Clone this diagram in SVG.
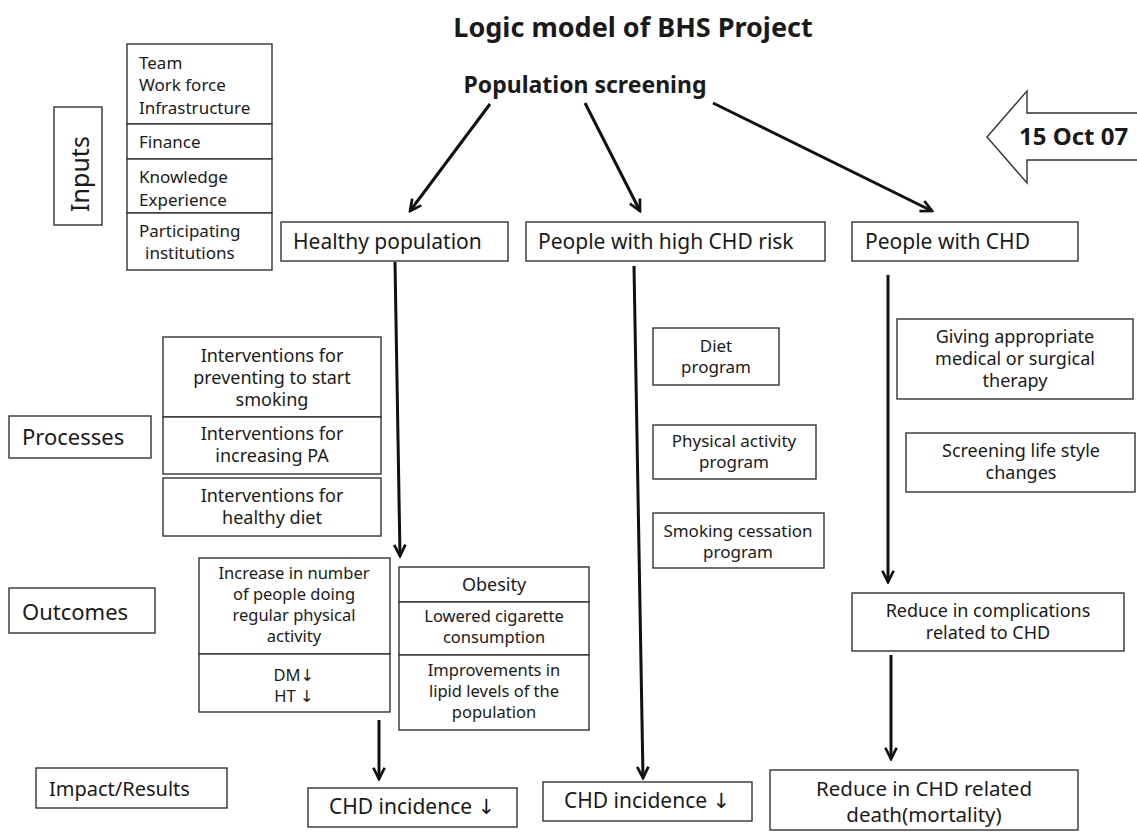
<svg xmlns="http://www.w3.org/2000/svg" width="1137" height="832" viewBox="0 0 1137 832">
<defs>
<style>
.b{fill:#fff;stroke:#333;stroke-width:1.4}
.t{font-family:"Noto Sans","DejaVu Sans",sans-serif;fill:#1a1a1a}
.c{text-anchor:middle}
.s16{font-size:16.5px}
.s17{font-size:17px}
.s18{font-size:18px}
.s21{font-size:21px}
.s22{font-size:22px}
.bold{font-weight:bold}
.e{stroke:#111;stroke-width:3;fill:none;marker-end:url(#ah)}
</style>
<marker id="ah" viewBox="0 0 12 12" refX="10.5" refY="6" markerWidth="5" markerHeight="5" orient="auto" markerUnits="strokeWidth">
<path d="M1.5,1.5 L10.5,6 L1.5,10.5" fill="none" stroke="#111" stroke-width="2.2" stroke-linejoin="miter"/>
</marker>
</defs>
<rect width="1137" height="832" fill="#fff"/>
<g id="title">
<text class="t c bold" x="633" y="37" font-size="27">Logic model of BHS Project</text>
</g>
<g id="screening">
<text class="t c bold" x="585" y="93" font-size="23">Population screening</text>
</g>
<g id="date-arrow">
<path d="M1137,113 H1027 V91 L987,137 L1027,183 V160 H1137" fill="#fff" stroke="#333" stroke-width="1.4"/>
<text class="t bold" x="1019" y="145" font-size="24">15 Oct 07</text>
</g>
<g id="inputs-label">
<rect class="b" x="54" y="107" width="48" height="118"/>
<text class="t c" x="89" y="174" font-size="25" transform="rotate(-90 89 174)">Inputs</text>
</g>
<g id="inputs">
<rect class="b" x="127" y="44" width="145" height="80"/>
<rect class="b" x="127" y="124" width="145" height="35"/>
<rect class="b" x="127" y="159" width="145" height="54"/>
<rect class="b" x="127" y="213" width="145" height="57"/>
<text class="t s17" x="139" y="69">Team</text>
<text class="t s17" x="139" y="91">Work force</text>
<text class="t s17" x="139" y="114">Infrastructure</text>
<text class="t s17" x="139" y="148">Finance</text>
<text class="t s17" x="139" y="183">Knowledge</text>
<text class="t s17" x="139" y="206">Experience</text>
<text class="t s17" x="139" y="237">Participating</text>
<text class="t s17" x="145" y="259">institutions</text>
</g>
<g id="healthy">
<rect class="b" x="281" y="222" width="227" height="39"/>
<text class="t s21" x="293" y="249">Healthy population</text>
</g>
<g id="highrisk">
<rect class="b" x="526" y="222" width="299" height="39"/>
<text class="t s21" x="538" y="249">People with high CHD risk</text>
</g>
<g id="withchd">
<rect class="b" x="852" y="222" width="226" height="39"/>
<text class="t s21" x="865" y="249">People with CHD</text>
</g>
<g id="processes-label">
<rect class="b" x="9" y="416" width="142" height="42"/>
<text class="t s22" x="22" y="445">Processes</text>
</g>
<g id="processes">
<rect class="b" x="163" y="337" width="218" height="80"/>
<rect class="b" x="163" y="417" width="218" height="57"/>
<rect class="b" x="163" y="478" width="218" height="58"/>
<text class="t c s18" x="272" y="362">Interventions for</text>
<text class="t c s18" x="272" y="384">preventing to start</text>
<text class="t c s18" x="272" y="406">smoking</text>
<text class="t c s18" x="272" y="440">Interventions for</text>
<text class="t c s18" x="272" y="462">increasing PA</text>
<text class="t c s18" x="272" y="502">Interventions for</text>
<text class="t c s18" x="272" y="524">healthy diet</text>
</g>
<g id="diet">
<rect class="b" x="653" y="328" width="126" height="57"/>
<text class="t c s17" x="716" y="352">Diet</text>
<text class="t c s17" x="716" y="373">program</text>
</g>
<g id="pa">
<rect class="b" x="653" y="425" width="163" height="54"/>
<text class="t c s17" x="734" y="447">Physical activity</text>
<text class="t c s17" x="734" y="468">program</text>
</g>
<g id="smoking">
<rect class="b" x="653" y="513" width="171" height="55"/>
<text class="t c s17" x="738" y="537">Smoking cessation</text>
<text class="t c s17" x="738" y="558">program</text>
</g>
<g id="therapy">
<rect class="b" x="897" y="319" width="236" height="80"/>
<text class="t c s18" x="1015" y="343">Giving appropriate</text>
<text class="t c s18" x="1015" y="365">medical or surgical</text>
<text class="t c s18" x="1015" y="387">therapy</text>
</g>
<g id="lifestyle">
<rect class="b" x="906" y="433" width="229" height="59"/>
<text class="t c s18" x="1021" y="457">Screening life style</text>
<text class="t c s18" x="1021" y="479">changes</text>
</g>
<g id="outcomes-label">
<rect class="b" x="9" y="588" width="146" height="45"/>
<text class="t s22" x="22" y="620">Outcomes</text>
</g>
<g id="outcome-pa">
<rect class="b" x="199" y="558" width="191" height="96"/>
<rect class="b" x="199" y="654" width="191" height="58"/>
<text class="t c s16" x="294" y="579">Increase in number</text>
<text class="t c s16" x="294" y="600">of people doing</text>
<text class="t c s16" x="294" y="621">regular physical</text>
<text class="t c s16" x="294" y="642">activity</text>
<text class="t c s16" x="294" y="681">DM↓</text>
<text class="t c s16" x="294" y="702">HT ↓</text>
</g>
<g id="outcome-risk">
<rect class="b" x="399" y="567" width="190" height="35"/>
<rect class="b" x="399" y="602" width="190" height="53"/>
<rect class="b" x="399" y="655" width="190" height="75"/>
<text class="t c s18" x="494" y="591">Obesity</text>
<text class="t c s16" x="494" y="622">Lowered cigarette</text>
<text class="t c s16" x="494" y="643">consumption</text>
<text class="t c s16" x="494" y="676">Improvements in</text>
<text class="t c s16" x="494" y="697">lipid levels of the</text>
<text class="t c s16" x="494" y="718">population</text>
</g>
<g id="complications">
<rect class="b" x="852" y="593" width="272" height="58"/>
<text class="t c s18" x="988" y="617">Reduce in complications</text>
<text class="t c s18" x="988" y="639">related to CHD</text>
</g>
<g id="impact-label">
<rect class="b" x="36" y="768" width="191" height="40"/>
<text class="t" x="49" y="796" font-size="20">Impact/Results</text>
</g>
<g id="incidence1">
<rect class="b" x="308" y="788" width="209" height="39"/>
<text class="t c s21" x="412" y="814">CHD incidence ↓</text>
</g>
<g id="incidence2">
<rect class="b" x="543" y="782" width="209" height="39"/>
<text class="t c s21" x="647" y="808">CHD incidence ↓</text>
</g>
<g id="mortality">
<rect class="b" x="770" y="770" width="308" height="60"/>
<text class="t c" x="924" y="796" font-size="20.5">Reduce in CHD related</text>
<text class="t c" x="924" y="822" font-size="20.5">death(mortality)</text>
</g>
<g id="connectors">
<line class="e" x1="490" y1="104" x2="410" y2="211"/>
<line class="e" x1="585" y1="103" x2="640" y2="211"/>
<line class="e" x1="713" y1="103" x2="932" y2="211"/>
<line class="e" x1="395" y1="262" x2="400" y2="556"/>
<line class="e" x1="634" y1="266" x2="643" y2="778"/>
<line class="e" x1="888" y1="275" x2="888" y2="582"/>
<line class="e" x1="379" y1="720" x2="379" y2="779"/>
<line class="e" x1="891" y1="655" x2="891" y2="759"/>
</g>
</svg>
